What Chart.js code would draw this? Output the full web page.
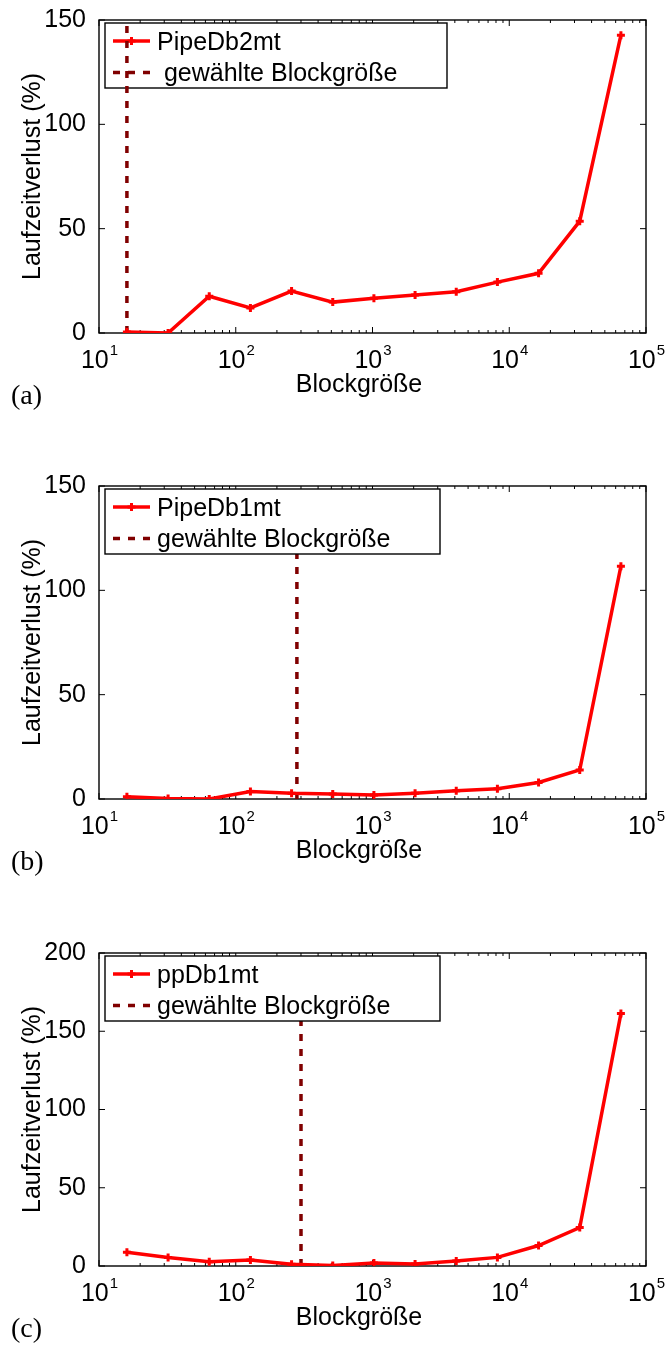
<!DOCTYPE html>
<html>
<head>
<meta charset="utf-8">
<script src="https://cdn.jsdelivr.net/npm/chart.js@4.4.1/dist/chart.umd.min.js"></script>
<style>
  body { margin: 0; background: #fff; width: 668px; height: 1347px; overflow: hidden; position: relative; }
  .panel { position: absolute; left: 0; width: 668px; height: 466px; }
</style>
</head>
<body>
<div class="panel" style="top:0px"><canvas id="chartA" width="668" height="466"></canvas></div>
<div class="panel" style="top:466px"><canvas id="chartB" width="668" height="466"></canvas></div>
<div class="panel" style="top:933px"><canvas id="chartC" width="668" height="466"></canvas></div>
<script>
const blockSizes = [16, 32, 64, 128, 256, 512, 1024, 2048, 4096, 8192, 16384, 32768, 65536];
const verlustPipeDb2mt = [0.5, 0, 17.6, 12.0, 20.1, 14.8, 16.6, 18.2, 19.8, 24.4, 28.6, 53.6, 142.7];
const verlustPipeDb1mt = [1.1, 0.2, 0, 3.6, 2.7, 2.4, 1.9, 2.7, 3.9, 4.9, 7.9, 13.9, 111.6];
const verlustPpDb1mt = [8.8, 5.5, 2.7, 3.8, 1.1, 0.3, 1.9, 1.3, 3.2, 5.5, 13.1, 24.6, 161.3];
const gewaehlteBlockgroesse = [16, 280, 300];
const seriesNames = ['PipeDb2mt', 'PipeDb1mt', 'ppDb1mt'];
const gewaehltLabels = [' gewählte Blockgröße', 'gewählte Blockgröße', 'gewählte Blockgröße'];
const panelLabels = ['(a)', '(b)', '(c)'];
const xTickValues = [10, 100, 1000, 10000, 100000];
const yMaxima = [150, 150, 200];
const yStep = 50;
const xTitle = 'Blockgröße';
const yTitle = 'Laufzeitverlust (%)';

const FONT = '"Liberation Sans", Arial, Helvetica, sans-serif';
const RED = '#ff0000';
const DARKRED = '#800000';

// MATLAB-artiger Rahmen, Ticks nach innen, Legende, Beschriftungen
const matlabAxes = {
  id: 'matlabAxes',
  beforeDatasetsDraw(chart, args, opts) {
    const { ctx, chartArea: a, scales: { x, y } } = chart;
    ctx.save();
    ctx.strokeStyle = '#000';
    ctx.lineWidth = 1;
    const vtick = (px, len) => {
      ctx.beginPath();
      ctx.moveTo(px, a.bottom); ctx.lineTo(px, a.bottom - len);
      ctx.moveTo(px, a.top); ctx.lineTo(px, a.top + len);
      ctx.stroke();
    };
    // Nebenticks der log-Achse
    for (let e = 1; e < 5; e++) {
      for (let m = 2; m <= 9; m++) vtick(x.getPixelForValue(m * Math.pow(10, e)), 3);
    }
    x.ticks.forEach(t => vtick(x.getPixelForValue(t.value), 6));
    y.ticks.forEach(t => {
      const py = y.getPixelForValue(t.value);
      ctx.beginPath();
      ctx.moveTo(a.left, py); ctx.lineTo(a.left + 6, py);
      ctx.moveTo(a.right, py); ctx.lineTo(a.right - 6, py);
      ctx.stroke();
    });
    ctx.lineWidth = 1.4;
    ctx.strokeRect(a.left, a.top, a.right - a.left, a.bottom - a.top);
    ctx.restore();
    if (!opts.legendOnTop) drawLegend(chart, opts);
  },
  afterDatasetsDraw(chart, args, opts) {
    if (opts.legendOnTop) drawLegend(chart, opts);
  },
  afterDraw(chart, args, opts) {
    const { ctx, chartArea: a, scales: { x } } = chart;
    ctx.save();
    ctx.fillStyle = '#000';
    ctx.textBaseline = 'alphabetic';
    ctx.textAlign = 'left';
    // x-Tickbeschriftung 10^n
    x.ticks.forEach(t => {
      const px = x.getPixelForValue(t.value);
      const exp = String(Math.round(Math.log10(t.value)));
      ctx.font = '25px ' + FONT;
      const w1 = ctx.measureText('10').width;
      ctx.font = '15px ' + FONT;
      const w2 = ctx.measureText(exp).width;
      const sx = px - (w1 + w2) / 2;
      ctx.font = '25px ' + FONT;
      ctx.fillText('10', sx, a.bottom + 35);
      ctx.font = '15px ' + FONT;
      ctx.fillText(exp, sx + w1 + 1, a.bottom + 22);
    });
    // x-Achsentitel
    ctx.font = '25px ' + FONT;
    ctx.textAlign = 'center';
    ctx.fillText(xTitle, 359, a.bottom + 58.5);
    // Teilbild-Kennung
    ctx.font = '28px "Liberation Serif", "Times New Roman", serif';
    ctx.textAlign = 'left';
    ctx.fillText(opts.panel, 11, 404);
    ctx.restore();
  }
};

function drawLegend(chart, opts) {
  const { ctx } = chart;
  const bx = 105, by = 23, bh = 65, bw = opts.legendWidth;
  ctx.save();
  ctx.fillStyle = '#fff';
  ctx.fillRect(bx, by, bw, bh);
  ctx.strokeStyle = '#000';
  ctx.lineWidth = 1.4;
  ctx.strokeRect(bx, by, bw, bh);
  // Zeile 1: Messreihe
  ctx.strokeStyle = RED;
  ctx.lineWidth = 3.5;
  ctx.beginPath(); ctx.moveTo(113, 41); ctx.lineTo(150, 41); ctx.stroke();
  ctx.lineWidth = 3;
  ctx.beginPath(); ctx.moveTo(131.5 - 4, 41); ctx.lineTo(131.5 + 4, 41);
  ctx.moveTo(131.5, 41 - 4); ctx.lineTo(131.5, 41 + 4); ctx.stroke();
  // Zeile 2: gewählte Blockgröße
  ctx.strokeStyle = DARKRED;
  ctx.lineWidth = 3.5;
  ctx.setLineDash([7, 8]);
  ctx.beginPath(); ctx.moveTo(113, 72.5); ctx.lineTo(151, 72.5); ctx.stroke();
  ctx.setLineDash([]);
  ctx.fillStyle = '#000';
  ctx.font = '25px ' + FONT;
  ctx.textAlign = 'left';
  ctx.textBaseline = 'alphabetic';
  ctx.fillText(opts.names[0], 157, 49.5);
  ctx.fillText(opts.names[1], 157, 81);
  ctx.restore();
}

function makeChart(id, idx, values) {
  const yMax = yMaxima[idx];
  const g = gewaehlteBlockgroesse[idx];
  return new Chart(document.getElementById(id), {
    type: 'line',
    data: {
      datasets: [
        {
          label: seriesNames[idx],
          data: blockSizes.map((b, i) => ({ x: b, y: values[i] })),
          borderColor: RED,
          backgroundColor: RED,
          borderWidth: 3.5,
          pointStyle: 'cross',
          pointRadius: 4,
          pointBorderWidth: 3,
          tension: 0
        },
        {
          label: gewaehltLabels[idx],
          data: [{ x: g, y: 0 }, { x: g, y: yMax }],
          borderColor: DARKRED,
          borderWidth: 3.5,
          borderDash: [7, 8],
          pointRadius: 0,
          tension: 0
        }
      ]
    },
    options: {
      responsive: false,
      animation: false,
      devicePixelRatio: 1,
      layout: { padding: { top: 17, right: 22, bottom: 69, left: 0 } },
      plugins: {
        legend: { display: false },
        tooltip: { enabled: false },
        matlabAxes: {
          legendOnTop: idx !== 0,
          legendWidth: idx === 0 ? 342 : 335,
          names: [seriesNames[idx], gewaehltLabels[idx]],
          panel: panelLabels[idx]
        }
      },
      scales: {
        x: {
          type: 'logarithmic',
          min: 10,
          max: 100000,
          grid: { display: false },
          border: { display: false },
          ticks: { display: false },
          afterBuildTicks: s => { s.ticks = xTickValues.map(v => ({ value: v })); },
          afterFit: s => { s.height = 64; }
        },
        y: {
          min: 0,
          max: yMax,
          grid: { display: false },
          border: { display: false },
          ticks: {
            stepSize: yStep,
            padding: 5,
            color: '#000',
            font: { family: FONT, size: 25 }
          },
          title: {
            display: true,
            text: yTitle,
            color: '#000',
            font: { family: FONT, size: 25 },
            padding: { top: 18, bottom: 0 }
          },
          afterFit: s => { s.width = 99; }
        }
      }
    },
    plugins: [matlabAxes]
  });
}

makeChart('chartA', 0, verlustPipeDb2mt);
makeChart('chartB', 1, verlustPipeDb1mt);
makeChart('chartC', 2, verlustPpDb1mt);
</script>
</body>
</html>
